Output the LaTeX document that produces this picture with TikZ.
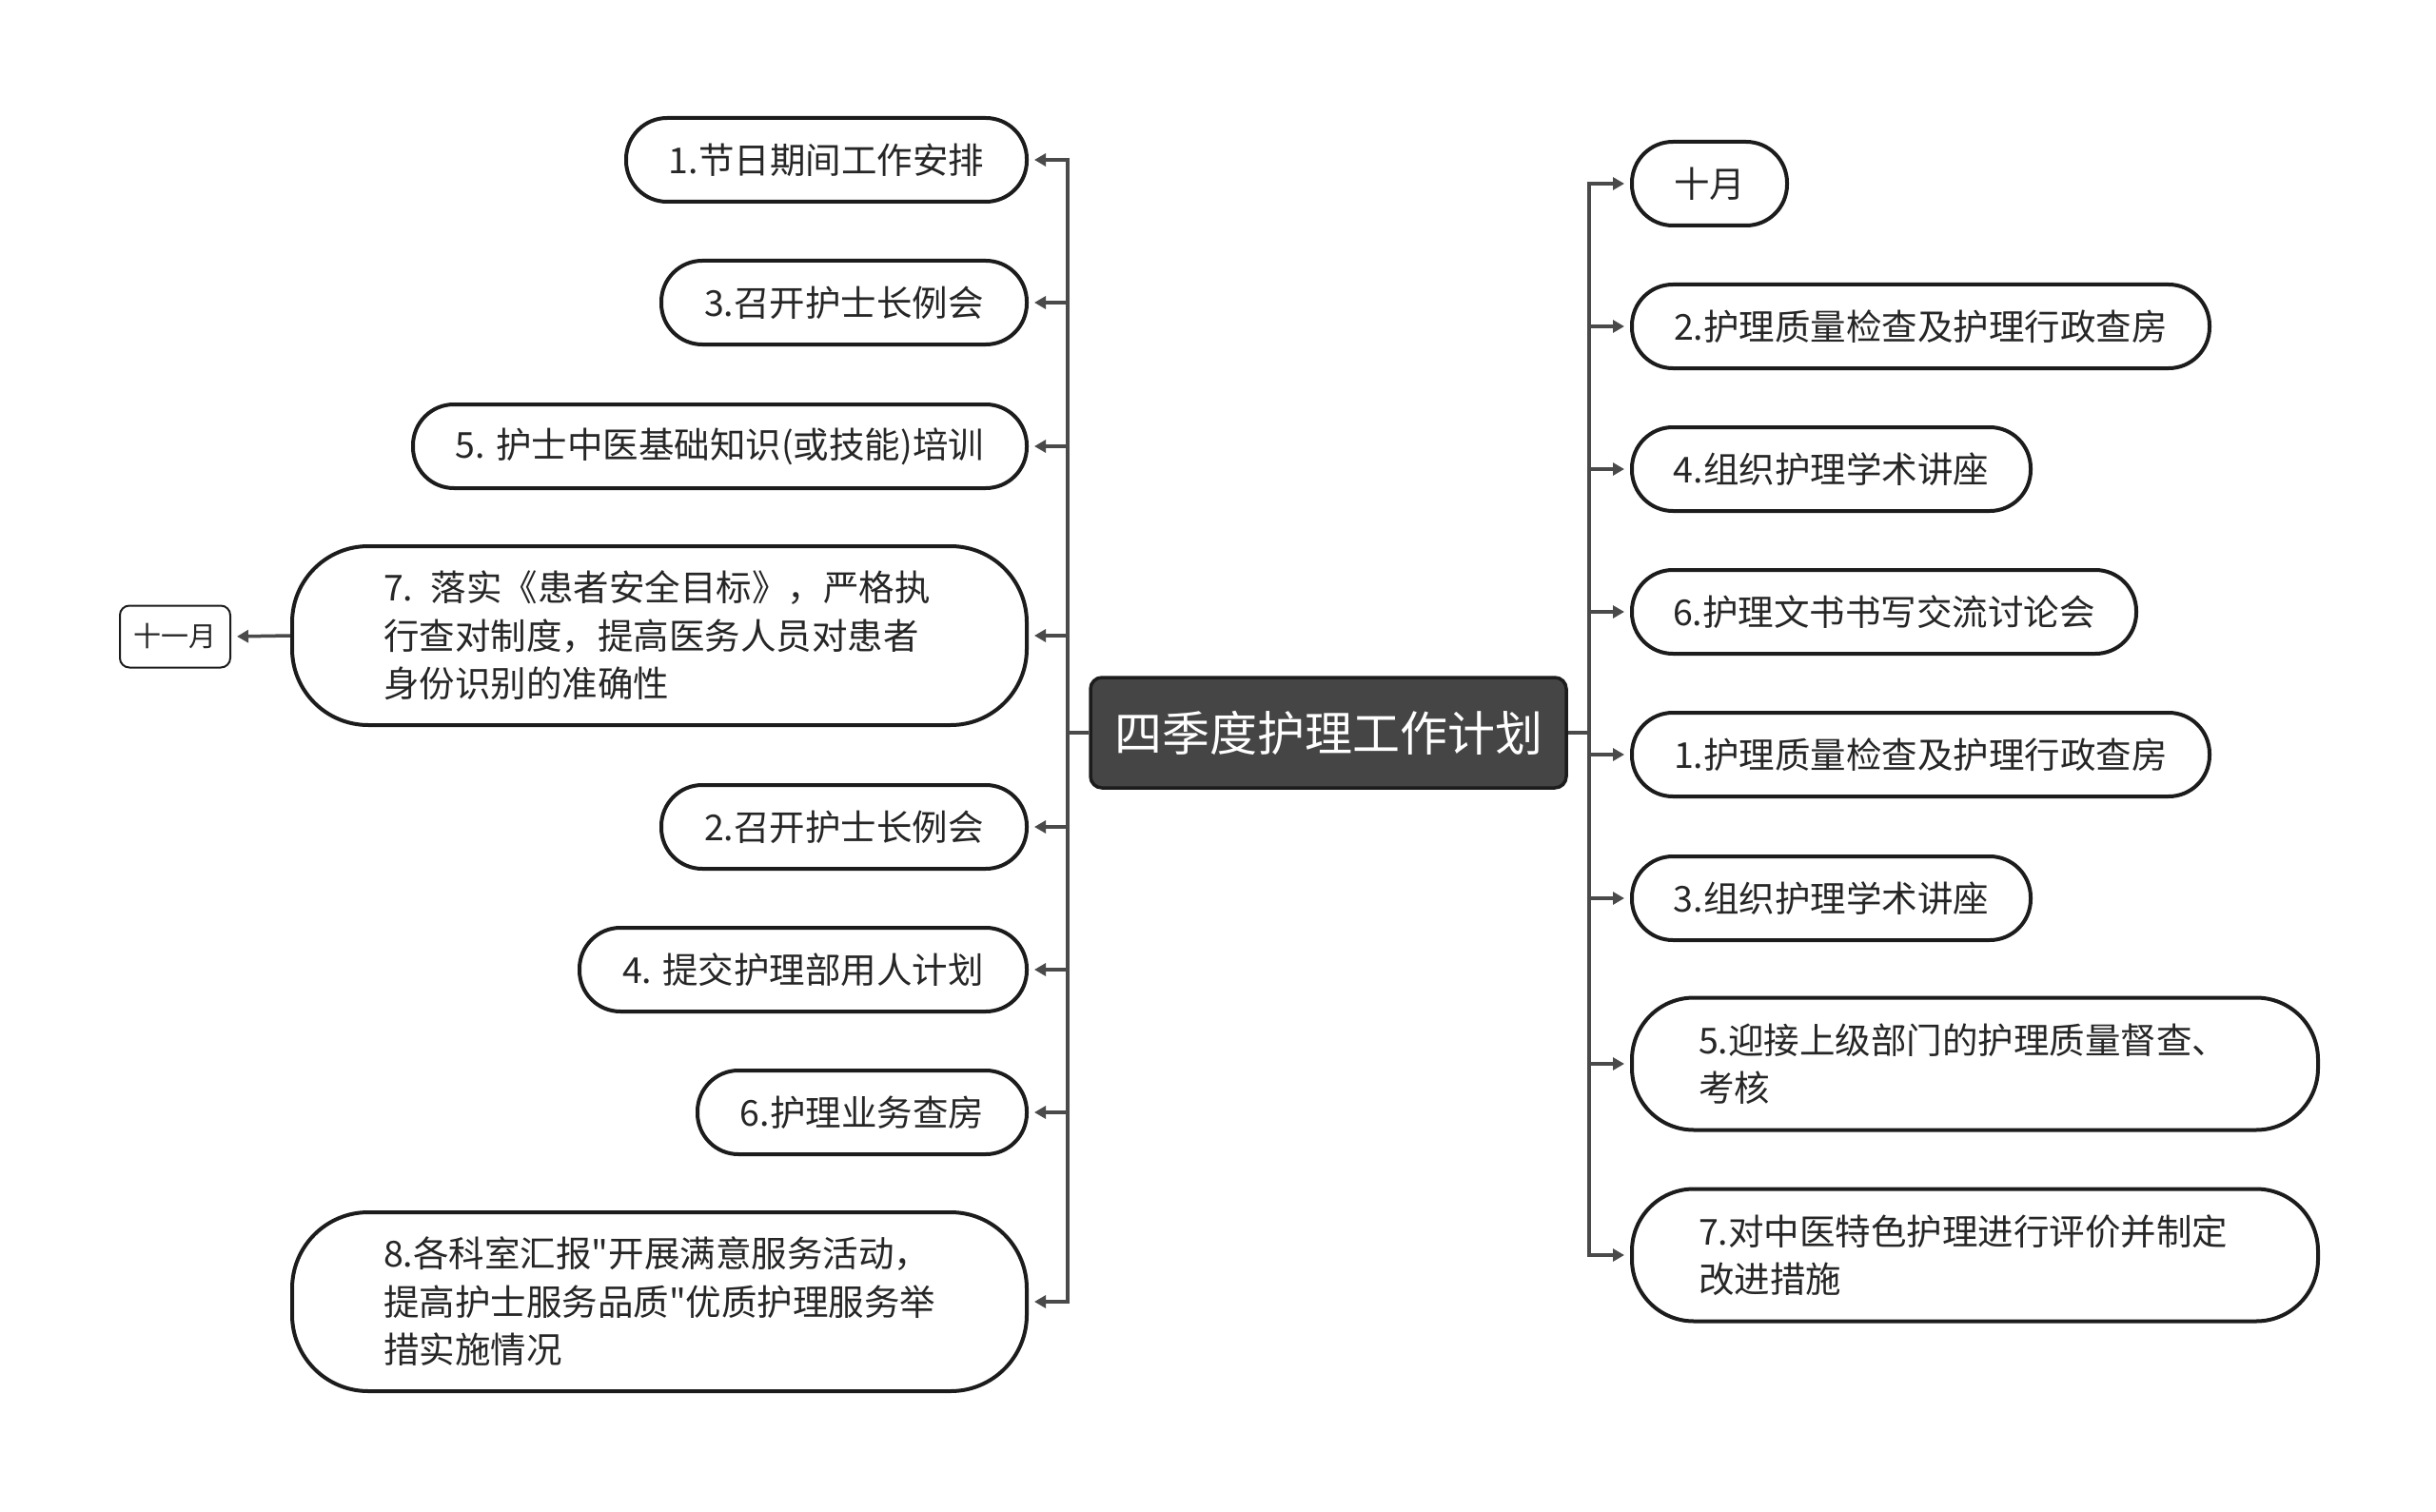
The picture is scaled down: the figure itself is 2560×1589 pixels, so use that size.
\documentclass[tikz,border=0pt]{standalone}
\usepackage{fontspec}
\newfontfamily\cjkfont{Noto Sans CJK SC}
\usetikzlibrary{arrows.meta}
\definecolor{linec}{HTML}{4A4A4A}
\definecolor{borderc}{HTML}{1C1C1C}
\definecolor{textc}{HTML}{262626}
\definecolor{rootfill}{HTML}{454545}
\begin{document}
\begin{tikzpicture}[x=1pt,y=-1pt,
  leaf/.style={draw=borderc, line width=4pt, fill=white, rounded corners=43pt,
    minimum height=88pt, inner sep=0pt, font=\cjkfont\fontsize{37.5}{50.5}\selectfont, text=textc},
  leafml/.style={draw=borderc, line width=4pt, fill=white, inner ysep=0pt,
    align=left, font=\cjkfont\fontsize{37.5}{50.5}\selectfont, text=textc},
  rootbox/.style={draw=borderc, line width=3.5pt, fill=rootfill, rounded corners=12pt,
    minimum width=500pt, minimum height=116pt, inner sep=0pt,
    font=\cjkfont\fontsize{50}{58}\selectfont, text=white},
  monthbox/.style={draw=borderc, line width=2pt, fill=white, rounded corners=10pt,
    minimum width=116pt, minimum height=65pt, inner sep=0pt,
    font=\cjkfont\fontsize{29}{34}\selectfont, text=textc},
  conn/.style={draw=linec, line width=3.5pt},
  arr/.style={conn, -{Triangle[length=12pt,width=13pt]}, shorten >=6pt},
]
\useasboundingbox (0,0) rectangle (2560,1589);
\fill[white] (0,0) rectangle (2560,1589);

% root
\node[rootbox] (root) at (1396,770) {四季度护理工作计划};

% left branch
\node[leaf, minimum width=421pt, anchor=east] (L1) at (1081,168) {1.节日期间工作安排};
\node[leaf, minimum width=384pt, anchor=east] (L2) at (1081,318) {3.召开护士长例会};
\node[leaf, minimum width=645pt, anchor=east] (L3) at (1081,469) {5. 护士中医基础知识(或技能)培训};
\node[leafml, rounded corners=80pt, minimum height=188pt, text width=580pt, inner xsep=96pt, anchor=east] (L4) at (1081,668)
  {7. 落实《患者安全目标》，严格执\\行查对制度，提高医务人员对患者\\身份识别的准确性};
\node[leaf, minimum width=384pt, anchor=east] (L5) at (1081,869) {2.召开护士长例会};
\node[leaf, minimum width=470pt, anchor=east] (L6) at (1081,1019) {4. 提交护理部用人计划};
\node[leaf, minimum width=346pt, anchor=east] (L7) at (1081,1169) {6.护理业务查房};
\node[leafml, rounded corners=80pt, minimum height=188pt, text width=580pt, inner xsep=96pt, anchor=east] (L8) at (1081,1368)
  {8.各科室汇报"开展满意服务活动，\\提高护士服务品质"优质护理服务举\\措实施情况};

\node[monthbox] (M11) at (184,669) {十一月};

% right branch
\node[leaf, minimum width=163pt, anchor=west] (R1) at (1713,193) {十月};
\node[leaf, minimum width=607pt, anchor=west] (R2) at (1713,343) {2.护理质量检查及护理行政查房};
\node[leaf, minimum width=419pt, anchor=west] (R3) at (1713,493) {4.组织护理学术讲座};
\node[leaf, minimum width=530pt, anchor=west] (R4) at (1713,643) {6.护理文书书写交流讨论会};
\node[leaf, minimum width=607pt, anchor=west] (R5) at (1713,793) {1.护理质量检查及护理行政查房};
\node[leaf, minimum width=419pt, anchor=west] (R6) at (1713,944) {3.组织护理学术讲座};
\node[leafml, rounded corners=65pt, minimum height=139pt, text width=581pt, inner xsep=70pt, anchor=west] (R7) at (1713,1118)
  {5.迎接上级部门的护理质量督查、\\考核};
\node[leafml, rounded corners=65pt, minimum height=139pt, text width=581pt, inner xsep=70pt, anchor=west] (R8) at (1713,1319)
  {7.对中医特色护理进行评价并制定\\改进措施};

% connectors
\coordinate (lt) at (1122,770);
\coordinate (rt) at (1670,770);
\draw[conn] (root.west) -- (lt);
\draw[conn] (root.east) -- (rt);
\foreach \n in {L1,L2,L3,L4,L5,L6,L7,L8}{
  \draw[arr] (lt) |- (\n.east);
}
\foreach \n in {R1,R2,R3,R4,R5,R6,R7,R8}{
  \draw[arr] (rt) |- (\n.west);
}
\draw[arr] (L4.west) -- (M11.east);
\end{tikzpicture}
\end{document}
